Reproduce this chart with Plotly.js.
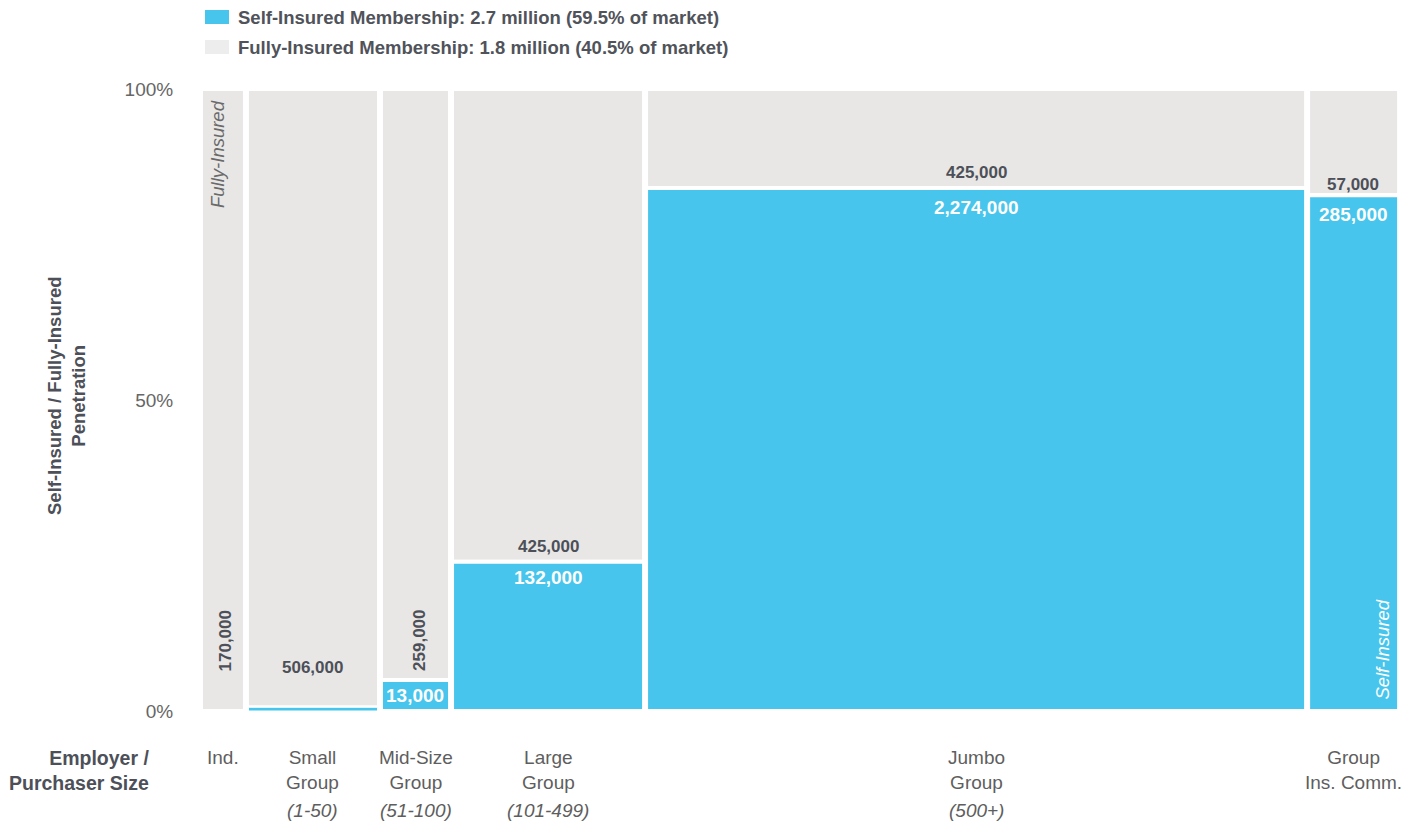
<!DOCTYPE html>
<html>
<head>
<meta charset="utf-8">
<script src="https://cdn.plot.ly/plotly-3.0.1.min.js"></script>
<style>html,body{margin:0;padding:0;background:#fff;}#chart{width:1416px;height:823px;}</style>
</head>
<body>
<div id="chart"></div>
<script>
// ---- data ----
const categoryNames = ['Ind.', 'Small<br>Group', 'Mid-Size<br>Group', 'Large<br>Group', 'Jumbo<br>Group', 'Group<br>Ins. Comm.'];
const sizeRanges = ['', '(1-50)', '(51-100)', '(101-499)', '(500+)', ''];
const columnWidthShare = [3.83, 11.17, 5.92, 16.17, 55.17, 7.75];   // share of chart width (%)
const selfInsuredPct = [0, 0.6, 5.0, 24.0, 84.1, 82.9];               // % of each column
const fullyInsuredMembers = [170000, 506000, 259000, 425000, 425000, 57000];
const selfInsuredMembers = [null, null, 13000, 132000, 2274000, 285000];
const legendLabels = ['Self-Insured Membership: 2.7 million (59.5% of market)',
                      'Fully-Insured Membership: 1.8 million (40.5% of market)'];
const yTickVals = [0, 50, 100];
const yTickText = ['0%', '50%', '100%'];

// ---- styling ----
const BLUE = '#47C5EC', GRAY = '#E8E7E6', DARK = '#4D5058', MID = '#5E5E5E';
const FONT = '"Liberation Sans", Arial, Helvetica, sans-serif';
const W = 1416, H = 823, ML = 200, MR = 16, MT = 89, MB = 112;
const plotW = W - ML - MR, plotH = H - MT - MB;
const pxPerUnit = plotW / 100;
const gapPx = 2, lineW = 4;

const starts = [];
let acc = 0;
columnWidthShare.forEach(w => { starts.push(acc); acc += w; });
const centers = columnWidthShare.map((w, i) => starts[i] + w / 2);
const fullyPct = selfInsuredPct.map(s => 100 - s);
const grayWidths = columnWidthShare.map(w => w - gapPx / pxPerUnit);
const blueLineW = selfInsuredPct.map(s => s === 0 ? 0 : (s < 1 ? 1 : lineW));
const blueWidths = grayWidths.map((w, i) => w - (lineW - blueLineW[i]) / pxPerUnit);

const fully = {
  type: 'bar', x: centers, y: fullyPct, base: selfInsuredPct, width: grayWidths,
  marker: {color: GRAY, line: {color: '#ffffff', width: lineW}},
  showlegend: false, hoverinfo: 'skip'
};
const selfIns = {
  type: 'bar', x: centers, y: selfInsuredPct, width: blueWidths,
  marker: {color: BLUE, line: {color: '#ffffff', width: blueLineW}},
  showlegend: false, hoverinfo: 'skip'
};

const fmt = v => v.toLocaleString('en-US');
const pyPaper = px => (H - MB - px) / plotH;   // pixel y -> paper y
const pxPaper = px => (px - ML) / plotW;       // pixel x -> paper x

const ann = [];
// fully-insured value labels (angle, anchor, shift relative to top of self-insured part)
const fullyStyle = [
  {angle: -90, yanchor: 'bottom', yshift: 38, xshift: 3},
  {angle: 0, yanchor: 'middle', yshift: 40, xshift: 0},
  {angle: -90, yanchor: 'bottom', yshift: 7, xshift: 4},
  {angle: 0, yanchor: 'middle', yshift: 15, xshift: 0},
  {angle: 0, yanchor: 'middle', yshift: 15, xshift: 0},
  {angle: 0, yanchor: 'middle', yshift: 11, xshift: -1}
];
fullyInsuredMembers.forEach((v, i) => {
  const s = fullyStyle[i];
  ann.push({x: centers[i], y: selfInsuredPct[i], xref: 'x', yref: 'y', text: '<b>' + fmt(v) + '</b>',
    showarrow: false, textangle: s.angle, xanchor: 'center', yanchor: s.yanchor,
    yshift: s.yshift, xshift: s.xshift, font: {family: FONT, size: 17, color: DARK}});
});
const selfShift = [0, 0, -16, -16, -20, -19];
selfInsuredMembers.forEach((v, i) => {
  if (v === null) return;
  ann.push({x: centers[i], y: selfInsuredPct[i], xref: 'x', yref: 'y', text: '<b>' + fmt(v) + '</b>',
    showarrow: false, xanchor: 'center', yanchor: 'middle', yshift: selfShift[i], xshift: i === 2 ? -1 : 0,
    font: {family: FONT, size: 19, color: '#ffffff'}});
});
// in-bar captions
ann.push({x: centers[0], y: 100, xref: 'x', yref: 'y', text: '<i>Fully-Insured</i>', showarrow: false,
  textangle: -90, xanchor: 'center', yanchor: 'top', yshift: -9, xshift: -6,
  font: {family: FONT, size: 18.5, color: '#6A6A6A'}});
ann.push({x: centers[5], y: 0, xref: 'x', yref: 'y', text: '<i>Self-Insured</i>', showarrow: false,
  textangle: -90, xanchor: 'center', yanchor: 'bottom', yshift: 9, xshift: 28,
  font: {family: FONT, size: 18.5, color: '#ffffff'}});
// category labels
categoryNames.forEach((c, i) => {
  ann.push({x: centers[i], y: pyPaper(745), xref: 'x', yref: 'paper', text: c, showarrow: false,
    xanchor: 'center', yanchor: 'top', align: 'center',
    font: {family: FONT, size: 19, color: MID}});
  if (sizeRanges[i]) {
    ann.push({x: centers[i], y: pyPaper(810), xref: 'x', yref: 'paper', text: '<i>' + sizeRanges[i] + '</i>',
      showarrow: false, xanchor: 'center', yanchor: 'middle',
      font: {family: FONT, size: 19, color: MID}});
  }
});
ann.push({x: pxPaper(151), y: pyPaper(745), xref: 'paper', yref: 'paper',
  text: '<b>Employer /</b><br><b>Purchaser Size</b>', showarrow: false, xanchor: 'right', yanchor: 'top',
  align: 'right', font: {family: FONT, size: 19.5, color: DARK}});
// y-axis title
ann.push({x: pxPaper(67), y: pyPaper(396), xref: 'paper', yref: 'paper',
  text: '<b>Self-Insured / Fully-Insured</b><br><b>Penetration</b>', showarrow: false, textangle: -90,
  xanchor: 'center', yanchor: 'middle', align: 'center', font: {family: FONT, size: 18.5, color: DARK}});
// legend text
const legendY = [17, 47];
const legendColors = [BLUE, '#EDEDED'];
const shapes = [];
legendLabels.forEach((t, i) => {
  ann.push({x: pxPaper(236), y: pyPaper(legendY[i]), xref: 'paper', yref: 'paper', text: '<b>' + t + '</b>',
    showarrow: false, xanchor: 'left', yanchor: 'middle', font: {family: FONT, size: 18.5, color: '#50535A'}});
  shapes.push({type: 'rect', xref: 'paper', yref: 'paper', x0: pxPaper(205), x1: pxPaper(229),
    y0: pyPaper(legendY[i] - 7), y1: pyPaper(legendY[i] + 7), fillcolor: legendColors[i], line: {width: 0}});
});

const layout = {
  width: W, height: H, margin: {l: ML, r: MR, t: MT, b: MB, pad: 0},
  paper_bgcolor: '#ffffff', plot_bgcolor: '#ffffff',
  barmode: 'overlay', showlegend: false,
  font: {family: FONT},
  xaxis: {range: [0, 100], showticklabels: false, showgrid: false, zeroline: false, showline: false, ticks: ''},
  yaxis: {range: [0, 100], tickvals: yTickVals, ticktext: yTickText, ticks: 'outside', ticklen: 22,
    tickcolor: 'rgba(0,0,0,0)', showgrid: false, zeroline: false, showline: false,
    tickfont: {family: FONT, size: 19, color: '#666666'}},
  annotations: ann, shapes: shapes
};
Plotly.newPlot('chart', [fully, selfIns], layout, {staticPlot: true, displayModeBar: false});
</script>
</body>
</html>
